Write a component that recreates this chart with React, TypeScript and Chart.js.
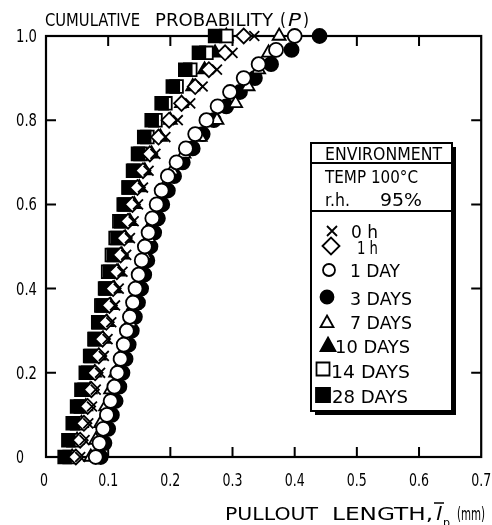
import { useEffect, useRef } from 'react';
import { Chart, registerables } from 'chart.js';
Chart.register(...registerables);

// ---- data ----
const P_31 = [0, 0.033, 0.067, 0.1, 0.133, 0.167, 0.2, 0.233, 0.267, 0.3, 0.333, 0.367, 0.4, 0.433, 0.467, 0.5, 0.533, 0.567, 0.6, 0.633, 0.667, 0.7, 0.733, 0.767, 0.8, 0.833, 0.867, 0.9, 0.933, 0.967, 1.0];
const P_26 = [0, 0.04, 0.08, 0.12, 0.16, 0.2, 0.24, 0.28, 0.32, 0.36, 0.4, 0.44, 0.48, 0.52, 0.56, 0.6, 0.64, 0.68, 0.72, 0.76, 0.8, 0.84, 0.88, 0.92, 0.96, 1.0];

const X_0H = [0.055, 0.062, 0.068, 0.074, 0.080, 0.087, 0.093, 0.099, 0.105, 0.111, 0.117, 0.123, 0.129, 0.135, 0.141, 0.148, 0.156, 0.165, 0.176, 0.192, 0.212, 0.232, 0.252, 0.275, 0.300, 0.335];
const X_1H = [0.048, 0.055, 0.061, 0.067, 0.073, 0.079, 0.085, 0.091, 0.097, 0.102, 0.108, 0.114, 0.120, 0.126, 0.132, 0.139, 0.147, 0.156, 0.167, 0.181, 0.198, 0.218, 0.240, 0.262, 0.288, 0.318];
const X_1DAY = [0.080, 0.086, 0.092, 0.098, 0.104, 0.110, 0.115, 0.120, 0.125, 0.130, 0.135, 0.140, 0.144, 0.149, 0.154, 0.159, 0.165, 0.171, 0.178, 0.186, 0.196, 0.210, 0.225, 0.240, 0.258, 0.276, 0.296, 0.318, 0.342, 0.370, 0.400];
const X_3DAYS = [0.088, 0.094, 0.100, 0.106, 0.112, 0.118, 0.123, 0.128, 0.133, 0.138, 0.143, 0.148, 0.153, 0.158, 0.163, 0.168, 0.174, 0.180, 0.187, 0.196, 0.206, 0.220, 0.236, 0.252, 0.270, 0.290, 0.312, 0.336, 0.362, 0.395, 0.440];
const X_7DAYS = [0.072, 0.080, 0.088, 0.096, 0.104, 0.112, 0.120, 0.128, 0.135, 0.141, 0.147, 0.153, 0.159, 0.165, 0.172, 0.180, 0.190, 0.203, 0.222, 0.248, 0.275, 0.305, 0.325, 0.342, 0.358, 0.375];
const X_10DAYS = [0.042, 0.050, 0.057, 0.064, 0.071, 0.078, 0.085, 0.092, 0.098, 0.104, 0.110, 0.116, 0.122, 0.128, 0.135, 0.142, 0.150, 0.159, 0.170, 0.184, 0.200, 0.218, 0.236, 0.255, 0.272, 0.290];
const X_14DAYS = [0.038, 0.044, 0.050, 0.056, 0.062, 0.068, 0.073, 0.079, 0.084, 0.089, 0.095, 0.100, 0.106, 0.112, 0.118, 0.125, 0.133, 0.142, 0.152, 0.163, 0.176, 0.192, 0.210, 0.232, 0.258, 0.290];
const X_28DAYS = [0.030, 0.036, 0.043, 0.050, 0.057, 0.064, 0.071, 0.078, 0.085, 0.091, 0.097, 0.103, 0.109, 0.115, 0.121, 0.127, 0.133, 0.140, 0.148, 0.158, 0.170, 0.186, 0.204, 0.224, 0.246, 0.272];

const SERIES_LABELS = ['0 h', '1 h', '1 DAY', '3 DAYS', '7 DAYS', '10 DAYS', '14 DAYS', '28 DAYS'];

const X_TICKS = [0, 0.1, 0.2, 0.3, 0.4, 0.5, 0.6, 0.7];
const X_TICK_LABELS = ['0', '0.1', '0.2', '0.3', '0.4', '0.5', '0.6', '0.7'];
const Y_TICKS = [0, 0.2, 0.4, 0.6, 0.8, 1.0];
const Y_TICK_LABELS = ['0', '0.2', '0.4', '0.6', '0.8', '1.0'];

const FONT = '"DejaVu Sans", "Liberation Sans", sans-serif';

function pts(xs: number[], ps: number[]) {
  return xs.map((x, i) => ({ x, y: ps[i] }));
}

function fitText(ctx: CanvasRenderingContext2D, text: string, x: number, y: number, w: number, size: number, italic = false) {
  ctx.save();
  ctx.font = `${italic ? 'italic ' : ''}${size}px ${FONT}`;
  ctx.textAlign = 'left';
  ctx.textBaseline = 'alphabetic';
  const m = ctx.measureText(text).width || 1;
  ctx.translate(x, y);
  ctx.scale(w / m, 1);
  ctx.fillStyle = '#000';
  ctx.fillText(text, 0, 0);
  ctx.restore();
}

function marker(ctx: CanvasRenderingContext2D, style: string, x: number, y: number, r: number, filled: boolean) {
  ctx.save();
  ctx.lineWidth = 1.8;
  ctx.strokeStyle = '#000';
  ctx.fillStyle = filled ? '#000' : '#fff';
  ctx.beginPath();
  if (style === 'circle') {
    ctx.arc(x, y, r, 0, Math.PI * 2);
  } else if (style === 'rect') {
    ctx.rect(x - r, y - r, 2 * r, 2 * r);
  } else if (style === 'rectRot') {
    ctx.moveTo(x - r, y); ctx.lineTo(x, y - r); ctx.lineTo(x + r, y); ctx.lineTo(x, y + r); ctx.closePath();
  } else if (style === 'triangle') {
    ctx.moveTo(x, y - r); ctx.lineTo(x + r, y + r * 0.8); ctx.lineTo(x - r, y + r * 0.8); ctx.closePath();
  } else if (style === 'crossRot') {
    ctx.moveTo(x - r, y - r); ctx.lineTo(x + r, y + r); ctx.moveTo(x + r, y - r); ctx.lineTo(x - r, y + r);
    ctx.stroke(); ctx.restore(); return;
  }
  ctx.fill();
  ctx.stroke();
  ctx.restore();
}

const framePlugin = {
  id: 'frameAndText',
  beforeDraw(chart: any) {
    const ctx = chart.ctx as CanvasRenderingContext2D;
    ctx.save();
    ctx.fillStyle = '#fff';
    ctx.fillRect(0, 0, chart.width, chart.height);
    ctx.restore();
  },
  beforeDatasetsDraw(chart: any) {
    const ctx = chart.ctx as CanvasRenderingContext2D;
    const { left, right, top, bottom } = chart.chartArea;
    const xs = chart.scales.x;
    const ys = chart.scales.y;
    ctx.save();
    ctx.strokeStyle = '#000';
    ctx.lineWidth = 2.2;
    ctx.strokeRect(left, top, right - left, bottom - top);
    ctx.lineWidth = 2;
    const TL = 10;
    X_TICKS.forEach((v) => {
      if (v <= 0 || v >= 0.7) return;
      const px = xs.getPixelForValue(v);
      ctx.beginPath();
      ctx.moveTo(px, bottom); ctx.lineTo(px, bottom - TL);
      ctx.moveTo(px, top); ctx.lineTo(px, top + TL);
      ctx.stroke();
    });
    Y_TICKS.forEach((v) => {
      if (v <= 0 || v >= 1) return;
      const py = ys.getPixelForValue(v);
      ctx.beginPath();
      ctx.moveTo(left, py); ctx.lineTo(left + TL, py);
      ctx.moveTo(right, py); ctx.lineTo(right - TL, py);
      ctx.stroke();
    });
    ctx.restore();

    // tick labels
    X_TICKS.forEach((v, i) => {
      const px = xs.getPixelForValue(v);
      const t = X_TICK_LABELS[i];
      const w = t.length === 1 ? 8 : 20;
      fitText(ctx, t, px - w / 2 - (i === 0 ? 2 : 0), 486, w, 17);
    });
    Y_TICKS.forEach((v, i) => {
      const py = ys.getPixelForValue(v);
      const t = Y_TICK_LABELS[i];
      const w = t.length === 1 ? 8 : 21;
      fitText(ctx, t, 16, py + 6, w, 17);
    });

    // axis titles
    fitText(ctx, 'CUMULATIVE', 45, 26, 95, 18);
    fitText(ctx, 'PROBABILITY', 155, 26, 118, 18);
    fitText(ctx, '(', 280, 26, 6, 18);
    fitText(ctx, 'P', 288, 26, 13, 18, true);
    fitText(ctx, ')', 303, 26, 6, 18);

    fitText(ctx, 'PULLOUT', 225, 520, 93, 18);
    fitText(ctx, 'LENGTH,', 332, 520, 101, 18);
    fitText(ctx, 'l', 436, 520, 6, 18, true);
    ctx.save();
    ctx.strokeStyle = '#000'; ctx.lineWidth = 1.5;
    ctx.beginPath(); ctx.moveTo(434, 503); ctx.lineTo(444, 503); ctx.stroke();
    ctx.restore();
    fitText(ctx, 'p', 443, 527, 7, 12);
    fitText(ctx, '(mm)', 457, 520, 28, 18);
  },
  afterDatasetsDraw(chart: any) {
    const ctx = chart.ctx as CanvasRenderingContext2D;
    // legend box with shadow
    const L = 311, T = 143, R = 452, B = 411;
    ctx.save();
    ctx.fillStyle = '#000';
    ctx.fillRect(L + 4, T + 4, R - L, B - T);
    ctx.fillStyle = '#fff';
    ctx.fillRect(L, T, R - L, B - T);
    ctx.strokeStyle = '#000';
    ctx.lineWidth = 2;
    ctx.strokeRect(L, T, R - L, B - T);
    ctx.beginPath();
    ctx.moveTo(L, 163); ctx.lineTo(R, 163);
    ctx.moveTo(L, 211); ctx.lineTo(R, 211);
    ctx.stroke();
    ctx.restore();

    fitText(ctx, 'ENVIRONMENT', 325, 160, 117, 18);
    fitText(ctx, 'TEMP 100°C', 325, 183, 93, 18);
    fitText(ctx, 'r.h.', 325, 206, 25, 18);
    fitText(ctx, '95%', 380, 206, 42, 18);

    const entries = [
      { style: 'crossRot', filled: false, mx: 332, my: 231, r: 5, tx: 351, ty: 238, tw: 27 },
      { style: 'rectRot', filled: false, mx: 331, my: 246, r: 8.5, tx: 357, ty: 254, tw: 21 },
      { style: 'circle', filled: false, mx: 329, my: 270, r: 6, tx: 350, ty: 277, tw: 50 },
      { style: 'circle', filled: true, mx: 327, my: 297, r: 6.5, tx: 350, ty: 305, tw: 62 },
      { style: 'triangle', filled: false, mx: 327, my: 322, r: 6.5, tx: 350, ty: 329, tw: 62 },
      { style: 'triangle', filled: true, mx: 328, my: 345, r: 7.5, tx: 335, ty: 353, tw: 75 },
      { style: 'rect', filled: false, mx: 323, my: 369, r: 6.5, tx: 331, ty: 378, tw: 79 },
      { style: 'rect', filled: true, mx: 323, my: 395, r: 7, tx: 332, ty: 403, tw: 76 },
    ];
    entries.forEach((e, i) => {
      marker(ctx, e.style, e.mx, e.my, e.r, e.filled);
      fitText(ctx, SERIES_LABELS[i], e.tx, e.ty, e.tw, 18);
    });
  },
};

function ds(label: string, xs: number[], ps: number[], style: string, radius: number, filled: boolean, order: number) {
  return {
    label,
    data: pts(xs, ps),
    pointStyle: style,
    pointRadius: radius,
    pointHoverRadius: radius,
    pointBackgroundColor: filled ? '#000' : '#fff',
    pointBorderColor: '#000',
    pointBorderWidth: 1.8,
    showLine: false,
    clip: false as any,
    order,
  };
}

export default function App() {
  const ref = useRef<HTMLCanvasElement | null>(null);
  useEffect(() => {
    if (!ref.current) return;
    const chart = new Chart(ref.current, {
      type: 'scatter',
      data: {
        datasets: [
          ds(SERIES_LABELS[0], X_0H, P_26, 'crossRot', 7, false, 2),
          ds(SERIES_LABELS[1], X_1H, P_26, 'rectRot', 7.5, false, 3),
          ds(SERIES_LABELS[2], X_1DAY, P_31, 'circle', 7, false, 1),
          ds(SERIES_LABELS[3], X_3DAYS, P_31, 'circle', 7, true, 8),
          ds(SERIES_LABELS[4], X_7DAYS, P_26, 'triangle', 7.5, false, 7),
          ds(SERIES_LABELS[5], X_10DAYS, P_26, 'triangle', 7.5, true, 6),
          ds(SERIES_LABELS[6], X_14DAYS, P_26, 'rect', 9, false, 5),
          ds(SERIES_LABELS[7], X_28DAYS, P_26, 'rect', 9, true, 4),
        ] as any,
      },
      options: {
        animation: false,
        responsive: false,
        events: [],
        layout: { padding: { left: 46, right: 10, top: 36, bottom: 68 } },
        scales: {
          x: { type: 'linear', min: 0, max: 0.7, display: false },
          y: { type: 'linear', min: 0, max: 1.0, display: false },
        },
        plugins: { legend: { display: false }, tooltip: { enabled: false } },
      },
      plugins: [framePlugin as any],
    });
    return () => chart.destroy();
  }, []);
  return (
    <div style={{ position: 'absolute', left: 0, top: 0, width: 492, height: 525 }}>
      <canvas ref={ref} width={492} height={525} />
    </div>
  );
}
